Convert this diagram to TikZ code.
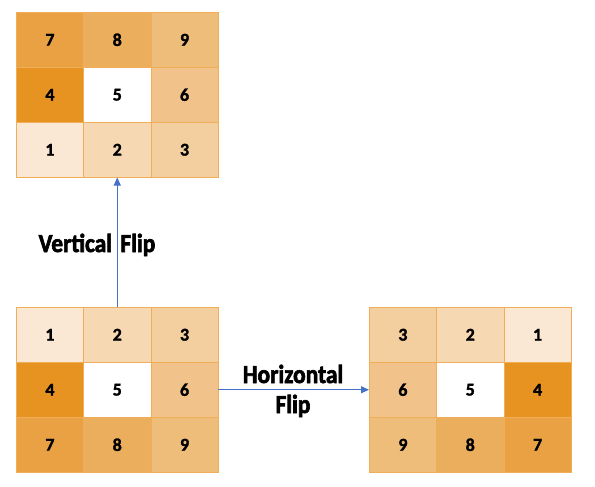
\documentclass[tikz,border=0pt]{standalone}
\usepackage{fontspec}
\setmainfont{Carlito}
\newfontfamily\labfont[FakeStretch=0.9,FakeBold=2.5,WordSpace=1.6]{Carlito}
\newfontfamily\cellfont[FakeBold=1.5]{Carlito}
\usetikzlibrary{arrows.meta}
\definecolor{c1}{HTML}{FAE8D4}
\definecolor{c2}{HTML}{F6D8B2}
\definecolor{c3}{HTML}{F3CE9E}
\definecolor{c4}{HTML}{E69322}
\definecolor{c5}{HTML}{FFFFFF}
\definecolor{c6}{HTML}{F1C38A}
\definecolor{c7}{HTML}{E9A144}
\definecolor{c8}{HTML}{EBAE5C}
\definecolor{c9}{HTML}{EFBD7A}
\definecolor{gridline}{HTML}{F0AE58}
\definecolor{arrowblue}{HTML}{4472C4}
\tikzset{
  cell/.style={anchor=north west, minimum width=67.33pt, minimum height=55pt,
    inner sep=0pt, draw=gridline, line width=0.5pt, font=\cellfont\fontsize{18}{20}\selectfont\bfseries},
  lab/.style={font=\labfont\fontsize{26}{30}\selectfont\bfseries, inner sep=0pt},
  arr/.style={draw=arrowblue, line width=0.9pt, -{Triangle[length=8pt,width=7pt]}}
}
\begin{document}
\begin{tikzpicture}[x=1pt,y=-1pt]
\useasboundingbox (0,0) rectangle (595,487);
% top grid (vertically flipped)
\foreach \v/\c/\r in {7/0/0,8/1/0,9/2/0,4/0/1,5/1/1,6/2/1,1/0/2,2/1/2,3/2/2}
  \node[cell, fill=c\v] (t\v) at ({16+\c*67.33},{12+\r*55}) {\v};
% bottom-left grid (original)
\foreach \v/\c/\r in {1/0/0,2/1/0,3/2/0,4/0/1,5/1/1,6/2/1,7/0/2,8/1/2,9/2/2}
  \node[cell, fill=c\v] (b\v) at ({16+\c*67.33},{307+\r*55}) {\v};
% bottom-right grid (horizontally flipped)
\foreach \v/\c/\r in {3/0/0,2/1/0,1/2/0,6/0/1,5/1/1,4/2/1,9/0/2,8/1/2,7/2/2}
  \node[cell, fill=c\v] (r\v) at ({369+\c*67.33},{307+\r*55}) {\v};
% arrows
\draw[arr] (b2.north) -- (t2.south);
\draw[arr] (b6.east) -- (r6.west);
% labels
\node[lab, anchor=base] (vlab) at (97,252) {Vertical Flip};
\node[lab, align=center, anchor=base] (hlab) at (293,413) {Horizontal\\Flip};
\end{tikzpicture}
\end{document}
